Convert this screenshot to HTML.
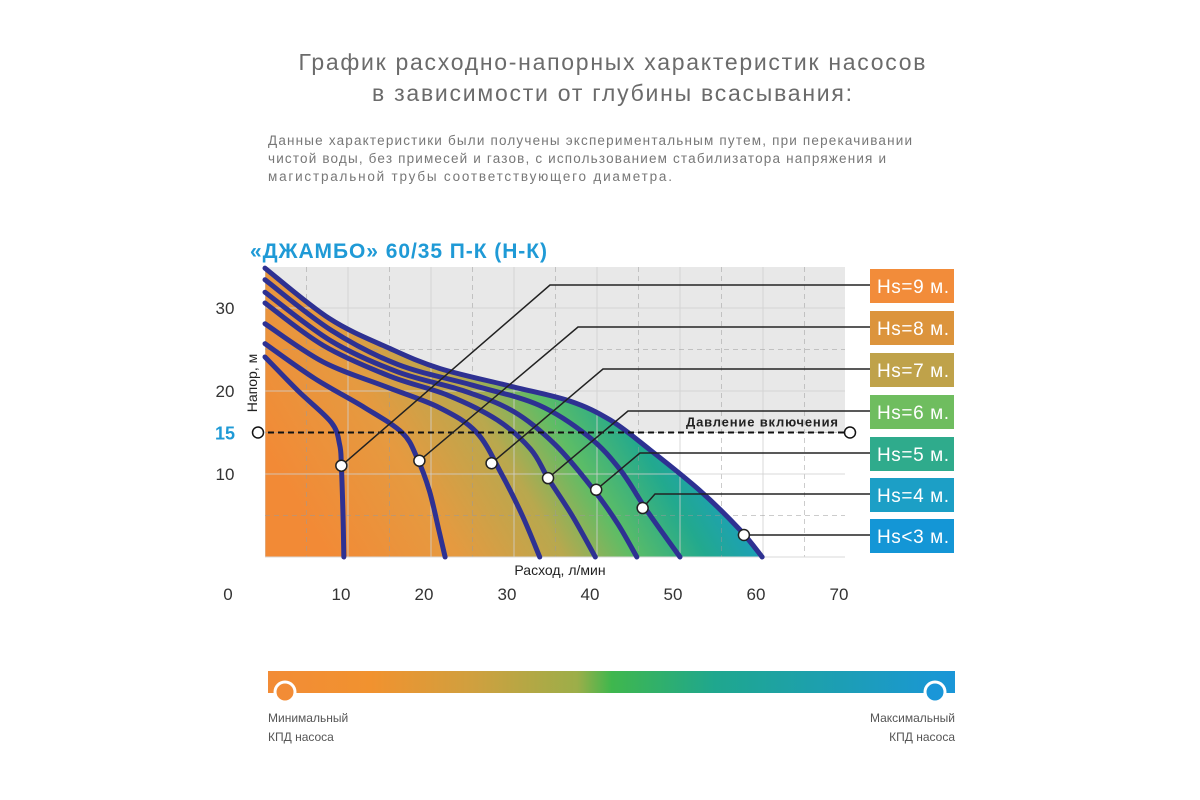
<!DOCTYPE html>
<html><head><meta charset="utf-8"><style>
body{margin:0;background:#fff}
svg{display:block;font-family:"Liberation Sans",sans-serif}
</style></head><body>
<svg width="1200" height="800" viewBox="0 0 1200 800">
<defs>
<linearGradient id="fillGrad" gradientUnits="userSpaceOnUse" x1="330" y1="560" x2="720" y2="330">
<stop offset="0" stop-color="#f28a36"/>
<stop offset="0.25" stop-color="#e59a40"/>
<stop offset="0.45" stop-color="#b8a84e"/>
<stop offset="0.58" stop-color="#5dbd66"/>
<stop offset="0.72" stop-color="#22a98e"/>
<stop offset="0.88" stop-color="#1a9ccc"/>
<stop offset="1" stop-color="#1793db"/>
</linearGradient>
<linearGradient id="barGrad" x1="0" y1="0" x2="1" y2="0">
<stop offset="0" stop-color="#f28c36"/>
<stop offset="0.15" stop-color="#f1922f"/>
<stop offset="0.3" stop-color="#cfa03f"/>
<stop offset="0.45" stop-color="#9cae49"/>
<stop offset="0.5" stop-color="#3fb74d"/>
<stop offset="0.65" stop-color="#1fa78e"/>
<stop offset="1" stop-color="#1a96d8"/>
</linearGradient>
<clipPath id="plotClip"><rect x="265" y="267" width="580" height="290"/></clipPath>
</defs>

<text x="612" y="70" text-anchor="middle" font-size="23" fill="#6b6b6b" textLength="627">График расходно-напорных характеристик насосов</text>
<text x="612" y="101" text-anchor="middle" font-size="23" fill="#6b6b6b" textLength="480">в зависимости от глубины всасывания:</text>
<g font-size="13.5" fill="#777">
<text x="268" y="145" textLength="644">Данные характеристики были получены экспериментальным путем, при перекачивании</text>
<text x="268" y="163" textLength="618">чистой воды, без примесей и газов, с использованием стабилизатора напряжения и</text>
<text x="268" y="181" textLength="404">магистральной трубы соответствующего диаметра.</text>
</g>
<text x="250" y="258" font-size="21" font-weight="bold" fill="#1f9ad6" textLength="297">«ДЖАМБО» 60/35 П-К (Н-К)</text>

<g id="chart"></g>

<g>
<rect x="268" y="671" width="687" height="22" fill="url(#barGrad)"/>
<circle cx="285" cy="692" r="10" fill="#f28c36" stroke="#fff" stroke-width="3"/>
<circle cx="935" cy="692" r="10" fill="#1a96d8" stroke="#fff" stroke-width="3"/>
<text x="268" y="722" font-size="12" fill="#555">Минимальный</text>
<text x="268" y="741" font-size="12" fill="#555">КПД насоса</text>
<text x="955" y="722" font-size="12" fill="#555" text-anchor="end">Максимальный</text>
<text x="955" y="741" font-size="12" fill="#555" text-anchor="end">КПД насоса</text>
</g>
</svg>
<script>
const xTicks=[10,20,30,40,50,60,70];
const yTicks=[10,20,30];
const switchPressure=15;
const seriesNames=["Hs<3 м.","Hs=4 м.","Hs=5 м.","Hs=6 м.","Hs=7 м.","Hs=8 м.","Hs=9 м."];
const flowHs3=[0,7.8,15.1,21.1,29.5,36.7,41.6,46.4,52.4,57.2,59.9];
const headHs3=[34.8,28.7,25.1,22.7,20.6,18.8,16.5,12.9,8.0,3.3,0];
const flowHs4=[0,8,16,25,33,39,42.8,45.8,48.2,50];
const headHs4=[33.4,27.3,23.2,20.7,18.3,14.5,10.5,5.9,2.5,0];
const flowHs5=[0,8,16,24,30,35,39.6,42.5,44.8];
const headHs5=[31.9,26,22.3,20,17.5,13.5,8.1,4,0];
const flowHs6=[0,7,15,22,28,32,34.1,37,39.8];
const headHs6=[30.6,25.5,21.8,19.5,16.5,13,9.5,5,0];
const flowHs7=[0,7,14.6,21,25.5,28.5,31,33.1];
const headHs7=[28.1,23.5,20.5,18,15,10,5,0];
const flowHs8=[0,6,12,16.5,18.3,19.8,21,21.7];
const headHs8=[25.7,21.5,18,15,12,8,3,0];
const flowHs9=[0,4,8,9,9.2,9.4,9.5];
const headHs9=[24.1,20,16.2,13.5,11,5,0];
const markerFlow=[57.7,45.5,39.9,34.1,27.3,18.6,9.2];
const markerHead=[2.65,5.9,8.1,9.5,11.3,11.6,11];
const legendColors=["#1496d6","#1c9fc6","#2fab8c","#6fbd5f","#bfa24a","#dc943c","#f28c3a"];

const NS="http://www.w3.org/2000/svg";
const X=v=>265+v*8.3, Y=h=>557-h*8.3;
const g=document.getElementById('chart');
function el(t,a,p){const e=document.createElementNS(NS,t);for(const k in a)e.setAttribute(k,a[k]);(p||g).appendChild(e);return e;}
function smooth(fx,hy){const p=fx.map((f,i)=>[X(f),Y(hy[i])]);let d="M"+p[0][0]+","+p[0][1];
for(let i=0;i<p.length-1;i++){const p0=p[i-1]||p[i],p1=p[i],p2=p[i+1],p3=p[i+2]||p2;
d+=" C"+(p1[0]+(p2[0]-p0[0])/6)+","+(p1[1]+(p2[1]-p0[1])/6)+" "+(p2[0]-(p3[0]-p1[0])/6)+","+(p2[1]-(p3[1]-p1[1])/6)+" "+p2[0]+","+p2[1];}return d;}

let bg=el('rect',{x:265,y:267,width:580,height:Y(switchPressure)-267,fill:"#e8e8e8"});


const curves=[[flowHs3,headHs3],[flowHs4,headHs4],[flowHs5,headHs5],[flowHs6,headHs6],[flowHs7,headHs7],[flowHs8,headHs8],[flowHs9,headHs9]];
let area=el('path',{d:smooth(flowHs3,headHs3)+" L"+X(0)+","+Y(0)+" Z",fill:"url(#fillGrad)"});


const grid=el('g',{"clip-path":"url(#plotClip)"});
for(let v=0;v<=70;v+=5){const l=el('line',{x1:X(v),x2:X(v),y1:267,y2:557,stroke:v%10?"#9a9a9a":"#cfcfcf","stroke-width":1,"stroke-opacity":v%10?0.5:0.8,"stroke-dasharray":v%10?"5,4":"none"},grid);

}
for(let h=5;h<=35;h+=5){const l=el('line',{x1:265,x2:845,y1:Y(h),y2:Y(h),stroke:h%10?"#9a9a9a":"#cfcfcf","stroke-opacity":h%10?0.5:0.8,"stroke-dasharray":h%10?"5,4":"none"},grid);

}
let bl=el('line',{x1:265,x2:845,y1:557,y2:557,stroke:"#d8d8d8"});


curves.forEach((c,i)=>{const p=el('path',{d:smooth(c[0],c[1]),fill:"none",stroke:"#2e3192","stroke-width":5,"stroke-linecap":"round"});

});
// switch pressure line
const sy=Y(switchPressure);
let dl=el('line',{x1:258,x2:850,y1:sy,y2:sy,stroke:"#111","stroke-width":2,"stroke-dasharray":"6,4"});


[258,850].forEach(x=>{const c=el('circle',{cx:x,cy:sy,r:5.5,fill:"#fff",stroke:"#111","stroke-width":1.5});

});
let dt=el('text',{x:686,y:sy-6,"font-size":13,"font-weight":"bold",fill:"#222",textLength:152});
dt.textContent="Давление включения";


// leaders and legend
const boxTop=[519,478,437,395,353,311,269];
const elbowX=[744,655,640,628,603,578,550];
markerFlow.forEach((f,i)=>{const mx=X(f),my=Y(markerHead[i]),ly=boxTop[i]+16;
const pl=el('polyline',{points:mx+","+my+" "+elbowX[i]+","+ly+" 870,"+ly,fill:"none",stroke:"#222","stroke-width":1.5});


const c=el('circle',{cx:mx,cy:my,r:5.5,fill:"#fff",stroke:"#222","stroke-width":1.5});


const r=el('rect',{x:870,y:boxTop[i],width:84,height:34,fill:legendColors[i]});


const t=el('text',{x:877,y:boxTop[i]+24,"font-size":19,fill:"#fff",textLength:72});
t.textContent=seriesNames[i];

});
// axes labels
xTicks.forEach(v=>{const t=el('text',{x:X(v)-7,y:600,"font-size":17,fill:"#333","text-anchor":"middle"});t.textContent=v;

});
let z=el('text',{x:228,y:600,"font-size":17,fill:"#333","text-anchor":"middle"});z.textContent="0";


yTicks.forEach(v=>{const t=el('text',{x:225,y:Y(v)+6,"font-size":17,fill:"#333","text-anchor":"middle"});t.textContent=v;

});
let s15=el('text',{x:225,y:sy+7,"font-size":18,"font-weight":"bold",fill:"#1f9ad6","text-anchor":"middle"});s15.textContent=switchPressure;


let xt=el('text',{x:560,y:575,"font-size":14,fill:"#222","text-anchor":"middle"});xt.textContent="Расход, л/мин";


let yt=el('text',{x:0,y:0,"font-size":14,fill:"#222","text-anchor":"middle",transform:"translate(257,383) rotate(-90)"});yt.textContent="Напор, м";


</script>
</body></html>
